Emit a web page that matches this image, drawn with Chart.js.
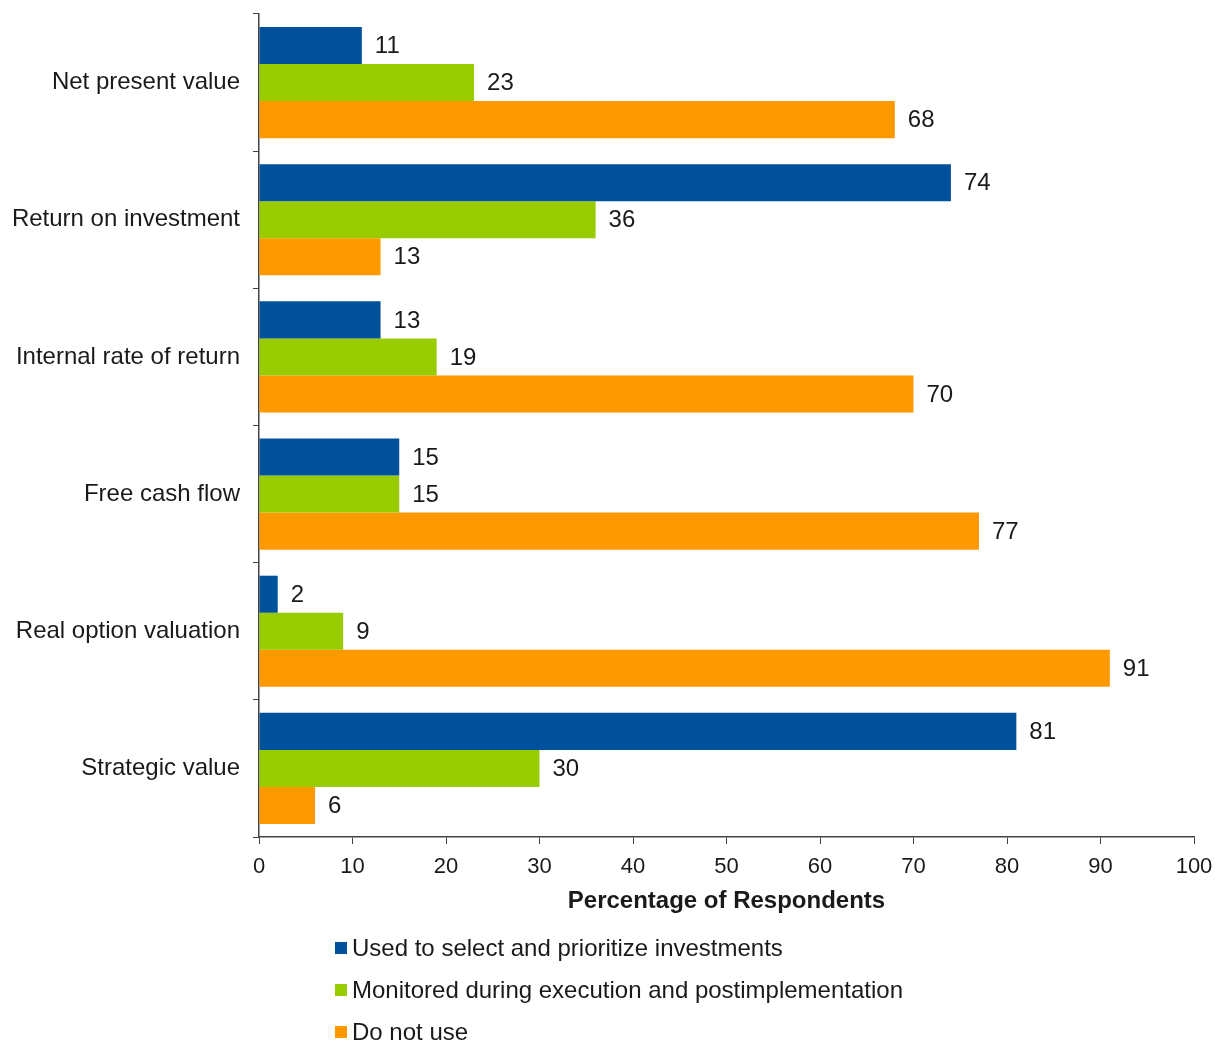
<!DOCTYPE html>
<html>
<head>
<meta charset="utf-8">
<script src="https://cdn.jsdelivr.net/npm/chart.js@4"></script>
<style>
  html, body { margin: 0; padding: 0; background: #fff; }
  #wrap { position: relative; width: 1216px; height: 1043px; }
  #grafico { position: absolute; left: 0; top: 0; }
  .legenda { position: absolute; left: 335px; top: 927px; font-family: "Liberation Sans", Arial, sans-serif; font-size: 24px; color: #1a1a1a; }
  .legenda-item { display: flex; align-items: center; height: 42px; }
  .legenda-cor { width: 12px; height: 12px; margin-right: 5px; }
</style>
</head>
<body>
<div id="wrap">
  <canvas id="grafico" width="1216" height="1043"></canvas>
  <div class="legenda" id="legenda"></div>
</div>
<script>
// === Dados ===
const categorias = ["Net present value", "Return on investment", "Internal rate of return", "Free cash flow", "Real option valuation", "Strategic value"];
const usadoSelecionar = [11, 74, 13, 15, 2, 81];
const monitorado = [23, 36, 19, 15, 9, 30];
const naoUsa = [68, 13, 70, 77, 91, 6];
const rotulosSeries = ["Used to select and prioritize investments", "Monitored during execution and postimplementation", "Do not use"];
const coresSeries = ["#00519b", "#99cc00", "#ff9900"];
const ticksX = [0, 10, 20, 30, 40, 50, 60, 70, 80, 90, 100];

const fonte = '"Liberation Sans", Arial, sans-serif';

// Rótulos de valor na ponta das barras
const rotulosValores = {
  id: "rotulosValores",
  afterDatasetsDraw(chart) {
    const ctx = chart.ctx;
    ctx.save();
    ctx.font = "24px " + fonte;
    ctx.fillStyle = "#1a1a1a";
    ctx.textAlign = "left";
    ctx.textBaseline = "middle";
    chart.data.datasets.forEach((ds, i) => {
      chart.getDatasetMeta(i).data.forEach((bar, j) => {
        ctx.fillText(ds.data[j], bar.x + 13, bar.y + 1);
      });
    });
    ctx.restore();
  }
};

const ctx = document.getElementById("grafico").getContext("2d");
const grafico = new Chart(ctx, {
  type: "bar",
  data: {
    labels: categorias,
    datasets: [
      { label: rotulosSeries[0], data: usadoSelecionar, backgroundColor: coresSeries[0] },
      { label: rotulosSeries[1], data: monitorado, backgroundColor: coresSeries[1] },
      { label: rotulosSeries[2], data: naoUsa, backgroundColor: coresSeries[2] }
    ]
  },
  options: {
    indexAxis: "y",
    responsive: false,
    animation: false,
    datasets: { bar: { categoryPercentage: 0.81, barPercentage: 1 } },
    layout: { padding: { top: 14, right: 22, bottom: 126, left: 0 } },
    scales: {
      x: {
        min: 0,
        max: 100,
        afterBuildTicks: (s) => { s.ticks = ticksX.map(v => ({ value: v })); },
        afterFit: (s) => { s.height = 80; s.paddingLeft = 0; s.paddingRight = 0; },
        grid: { drawOnChartArea: false, drawTicks: true, tickLength: 7, color: "#444" },
        border: { display: true, color: "#444", width: 1.5 },
        ticks: { font: { family: fonte, size: 22 }, color: "#1a1a1a", padding: 10, maxRotation: 0 },
        title: { display: true, text: "Percentage of Respondents", font: { family: fonte, size: 24, weight: "bold" }, color: "#1a1a1a", padding: { top: 0, bottom: 1 } }
      },
      y: {
        afterFit: (s) => { s.width = 259; s.paddingTop = 0; s.paddingBottom = 0; },
        grid: { offset: true, drawOnChartArea: false, drawTicks: true, tickLength: 6, color: "#444" },
        border: { display: true, color: "#444", width: 1.5 },
        ticks: { font: { family: fonte, size: 24 }, color: "#1a1a1a", padding: 13 }
      }
    },
    plugins: {
      legend: { display: false },
      tooltip: { enabled: false }
    }
  },
  plugins: [rotulosValores]
});

// Legenda em HTML (vertical)
const legenda = document.getElementById("legenda");
grafico.data.datasets.forEach(ds => {
  const item = document.createElement("div");
  item.classList.add("legenda-item");
  item.innerHTML = `<span class="legenda-cor" style="background:${ds.backgroundColor}"></span><span>${ds.label}</span>`;
  legenda.appendChild(item);
});
</script>
</body>
</html>
